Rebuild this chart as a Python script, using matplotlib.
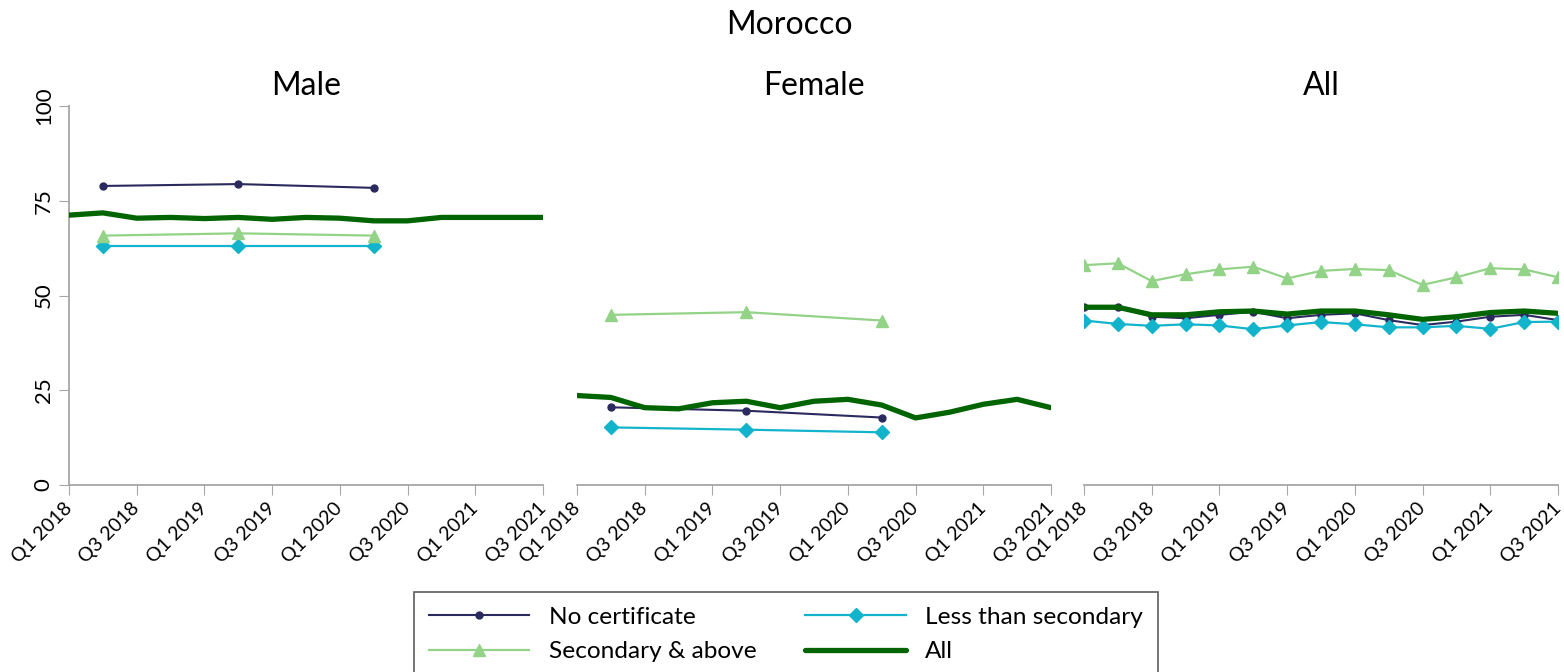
import numpy as np
import matplotlib.pyplot as plt

plt.rcParams['font.family'] = ['Lato', 'DejaVu Sans']

# ==============================
# DATA
# ==============================

quarters = ["Q1 2018", "Q2 2018", "Q3 2018", "Q4 2018",
            "Q1 2019", "Q2 2019", "Q3 2019", "Q4 2019",
            "Q1 2020", "Q2 2020", "Q3 2020", "Q4 2020",
            "Q1 2021", "Q2 2021", "Q3 2021"]
tick_labels = quarters[::2]

# Male and Female breakdowns by education are only annual
annual_quarters = ["Q2 2018", "Q2 2019", "Q2 2020"]

male_no_cert = [78.9, 79.4, 78.4]
male_less_sec = [63.1, 63.1, 63.1]
male_sec_above = [65.8, 66.4, 65.8]
male_all = [71.2, 71.8, 70.4, 70.6, 70.3, 70.6, 70.1, 70.6,
            70.4, 69.7, 69.7, 70.6, 70.6, 70.6, 70.6]

female_no_cert = [20.5, 19.6, 17.8]
female_less_sec = [15.2, 14.6, 13.9]
female_sec_above = [44.9, 45.6, 43.4]
female_all = [23.6, 23.1, 20.4, 20.1, 21.7, 22.1, 20.4, 22.1,
              22.6, 21.1, 17.7, 19.2, 21.3, 22.6, 20.4]

all_no_cert = [46.9, 47.0, 44.4, 44.0, 44.9, 45.7, 44.0, 44.9,
               45.3, 43.5, 42.2, 43.1, 44.4, 44.9, 43.5]
all_less_sec = [43.4, 42.5, 42.0, 42.4, 42.1, 41.1, 42.1, 43.0,
                42.4, 41.6, 41.6, 42.0, 41.2, 43.0, 43.1]
all_sec_above = [58.0, 58.5, 53.8, 55.6, 56.9, 57.6, 54.5, 56.5,
                 57.0, 56.7, 52.8, 54.8, 57.2, 56.9, 54.8]
all_all = [46.9, 46.9, 44.9, 44.9, 45.7, 45.9, 45.1, 45.9,
           45.9, 44.9, 43.7, 44.4, 45.5, 45.9, 45.3]

# ==============================
# STYLE
# ==============================

C_NOCERT = "#2b2a5e"
C_LESS = "#12b4cc"
C_SEC = "#92d387"
C_ALL = "#006400"
C_AXIS = "#a6a6a6"

fig = plt.figure(figsize=(15.64, 6.72), dpi=100)

W = 474 / 1564
H = (485 - 106) / 672
B = 1 - 485 / 672
lefts = [69 / 1564, 577 / 1564, 1084 / 1564]

xq = np.arange(len(quarters))
xa = [quarters.index(q) for q in annual_quarters]

paneles = [
    ("Male", male_no_cert, male_less_sec, male_sec_above, male_all, xa),
    ("Female", female_no_cert, female_less_sec, female_sec_above, female_all, xa),
    ("All", all_no_cert, all_less_sec, all_sec_above, all_all, list(xq)),
]

for i, (titulo, nc, ls, sa, al, xs) in enumerate(paneles):
    ax = fig.add_axes([lefts[i], B, W, H])

    ax.plot(xs, nc, color=C_NOCERT, lw=1.5, marker="o", ms=5,
            label="No certificate", zorder=3)
    ax.plot(xs, ls, color=C_LESS, lw=1.6, marker="D", ms=7.5,
            label="Less than secondary", zorder=3)
    ax.plot(xs, sa, color=C_SEC, lw=1.6, marker="^", ms=8,
            label="Secondary & above", zorder=3)
    ax.plot(xq, al, color=C_ALL, lw=3.8, label="All", zorder=4,
            solid_capstyle="round")

    ax.set_xlim(0, len(quarters) - 1)
    ax.set_ylim(0, 100)
    ax.set_xticks(xq[::2])
    ax.set_xticklabels(tick_labels, rotation=45, ha="right", va="center",
                       rotation_mode="anchor", fontsize=14)
    ax.tick_params(axis="x", length=7, color=C_AXIS, pad=8)

    for s in ["top", "right"]:
        ax.spines[s].set_visible(False)
    ax.spines["bottom"].set_color(C_AXIS)
    ax.spines["bottom"].set_linewidth(1.3)

    if i == 0:
        ax.set_yticks([0, 25, 50, 75, 100])
        ax.set_yticklabels(["0", "25", "50", "75", "100"], rotation=90,
                           va="center", fontsize=16)
        ax.tick_params(axis="y", length=7, color=C_AXIS, pad=4)
        ax.spines["left"].set_color(C_AXIS)
        ax.spines["left"].set_linewidth(1.3)
    else:
        ax.spines["left"].set_visible(False)
        ax.set_yticks([])

    ax.set_title(titulo, fontsize=23, pad=8)
    ax.patch.set_alpha(0)

    if i == 2:
        handles, labels = ax.get_legend_handles_labels()

fig.text(0.505, 0.963, "Morocco", ha="center", va="center", fontsize=23)

# legend fills by column: No certificate / Secondary, Less / All
orden = [0, 2, 1, 3]
leg = fig.legend([handles[j] for j in orden], [labels[j] for j in orden],
                 loc="upper center", bbox_to_anchor=(0.5026, 0.119), ncol=2,
                 fontsize=17.6, frameon=True, fancybox=False, handlelength=4.1,
                 columnspacing=2.0, handletextpad=0.8, borderpad=0.6,
                 labelspacing=0.55, borderaxespad=0)
leg.get_frame().set_edgecolor("#333333")
leg.get_frame().set_linewidth(1.2)

plt.savefig("out.png", dpi=100)
